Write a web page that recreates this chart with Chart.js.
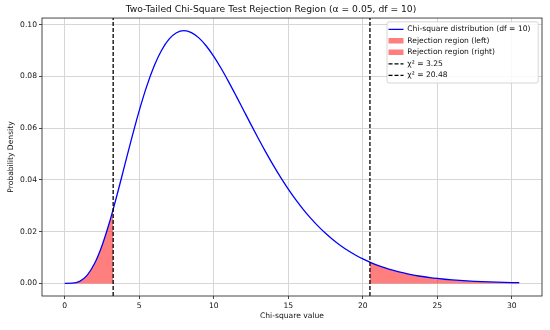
<!DOCTYPE html>
<html>
<head>
<meta charset="utf-8">
<script src="https://cdn.jsdelivr.net/npm/chart.js@4.4.1/dist/chart.umd.min.js"></script>
<style>
  html, body { margin: 0; padding: 0; background: #ffffff; }
  #wrap { width: 550px; height: 330px; }
</style>
</head>
<body>
<div id="wrap"><canvas id="c" width="550" height="330"></canvas></div>
<script>
// ---- text ----
const chartTitle = "Two-Tailed Chi-Square Test Rejection Region (α = 0.05, df = 10)";
const xAxisLabel = "Chi-square value";
const yAxisLabel = "Probability Density";
const seriesLabels = ["Chi-square distribution (df = 10)", "Rejection region (left)", "Rejection region (right)", "χ² = 3.25", "χ² = 20.48"];

// ---- data ----
const chiX = [0, 0.5, 1, 1.5, 2, 2.5, 3, 3.25, 3.5, 4, 4.5, 5, 5.5, 6, 6.5, 7, 7.5, 8, 8.5, 9, 9.5,
  10, 10.5, 11, 11.5, 12, 12.5, 13, 13.5, 14, 14.5, 15, 15.5, 16, 16.5, 17, 17.5, 18, 18.5, 19, 19.5,
  20, 20.48, 20.5, 21, 21.5, 22, 22.5, 23, 23.5, 24, 24.5, 25, 25.5, 26, 26.5, 27, 27.5, 28, 28.5,
  29, 29.5, 30, 30.5];
const chiPdf = [0, 0.0000634, 0.000790, 0.003114, 0.007664, 0.014572, 0.023533, 0.028605, 0.033954,
  0.045112, 0.056276, 0.066800, 0.076169, 0.084016, 0.090122, 0.094406, 0.096889, 0.097683, 0.096952,
  0.094904, 0.091756, 0.087733, 0.083052, 0.077910, 0.072483, 0.066927, 0.061369, 0.055910, 0.050639,
  0.045612, 0.040877, 0.036457, 0.032373, 0.028626, 0.025214, 0.022128, 0.019351, 0.016869, 0.014659,
  0.012702, 0.010975, 0.009458, 0.008181, 0.008131, 0.006973, 0.005967, 0.005094, 0.004341, 0.003691,
  0.003133, 0.002654, 0.002245, 0.001896, 0.001598, 0.001345, 0.001130, 0.000949, 0.000795, 0.000666,
  0.000556, 0.000464, 0.000387, 0.000323, 0.000268];
const criticalValues = [3.25, 20.48];

// ---- axes ----
const xTicks = [0, 5, 10, 15, 20, 25, 30];
const yTicks = [0, 0.02, 0.04, 0.06, 0.08, 0.10];
const xLimits = [-1.525, 32.025];
const yLimits = [-0.00488, 0.10257];

// ---- build datasets from arrays ----
const curvePts = chiX.map((x, i) => ({ x: x, y: chiPdf[i] }));
const leftPts = curvePts.filter(p => p.x <= criticalValues[0]);
const rightPts = curvePts.filter(p => p.x >= criticalValues[1]);
const vline = v => [{ x: v, y: yLimits[0] }, { x: v, y: yLimits[1] }];

const FONT = "'DejaVu Sans', 'Liberation Sans', sans-serif";
const TXT = '#111111';
const fillColor = 'rgba(255, 0, 0, 0.5)';

const datasets = [
  { label: seriesLabels[0], data: curvePts, borderColor: '#0000ff', borderWidth: 1.3, pointRadius: 0,
    fill: false, cubicInterpolationMode: 'monotone', order: 1, legendStyle: 'line' },
  { label: seriesLabels[1], data: leftPts, borderWidth: 0, borderColor: 'rgba(0,0,0,0)', backgroundColor: fillColor,
    pointRadius: 0, fill: 'origin', cubicInterpolationMode: 'monotone', order: 2, legendStyle: 'rect' },
  { label: seriesLabels[2], data: rightPts, borderWidth: 0, borderColor: 'rgba(0,0,0,0)', backgroundColor: fillColor,
    pointRadius: 0, fill: 'origin', cubicInterpolationMode: 'monotone', order: 2, legendStyle: 'rect' },
  { label: seriesLabels[3], data: vline(criticalValues[0]), borderColor: '#000000', borderWidth: 1.3,
    borderDash: [4, 2], pointRadius: 0, fill: false, order: 0, legendStyle: 'line' },
  { label: seriesLabels[4], data: vline(criticalValues[1]), borderColor: '#000000', borderWidth: 1.3,
    borderDash: [4, 2], pointRadius: 0, fill: false, order: 0, legendStyle: 'line' }
];

// legend frame + placement inside the plot (upper right)
function drawLegendFrame(chart) {
  const ctx = chart.ctx, ca = chart.chartArea;
  const l = ca.right - 155, t = ca.top + 3.8, r = ca.right - 3.8, b = ca.top + 65;
  ctx.save();
  ctx.beginPath();
  if (ctx.roundRect) ctx.roundRect(l, t, r - l, b - t, 2); else ctx.rect(l, t, r - l, b - t);
  ctx.fillStyle = 'rgba(255,255,255,0.85)';
  ctx.fill();
  ctx.lineWidth = 0.8;
  ctx.strokeStyle = '#cccccc';
  ctx.stroke();
  ctx.restore();
}
const legendPlacement = {
  id: 'legendPlacement',
  afterLayout(chart) {
    const lg = chart.legend;
    if (!lg) return;
    const pad = lg.options.labels.padding;
    const ca = chart.chartArea;
    lg.left = ca.right - 153.5 - pad;
    lg.top = ca.top + 7.5 - pad;
    lg.right = ca.right;
    lg.bottom = ca.bottom + 50;
    if (!lg._framed) {
      const orig = lg.draw.bind(lg);
      lg.draw = function (area) { drawLegendFrame(chart); orig(area); };
      lg._framed = true;
    }
  }
};
const spines = {
  id: 'spines',
  afterDatasetsDraw(chart) {
    const ctx = chart.ctx, ca = chart.chartArea;
    ctx.save();
    ctx.strokeStyle = '#333333';
    ctx.lineWidth = 0.9;
    ctx.strokeRect(ca.left, ca.top, ca.right - ca.left, ca.bottom - ca.top);
    ctx.restore();
  }
};

new Chart(document.getElementById('c'), {
  type: 'line',
  data: { datasets: datasets },
  plugins: [legendPlacement, spines],
  options: {
    responsive: false,
    animation: false,
    devicePixelRatio: 1,
    layout: { padding: { left: 0, right: 8, top: 0, bottom: 0 } },
    plugins: {
      title: {
        display: true, text: chartTitle, color: TXT,
        font: { family: FONT, size: 9.2, weight: 'normal', lineHeight: 1.2 },
        padding: { top: 4.5, bottom: 2.5 }
      },
      legend: {
        display: true,
        position: 'chartArea',
        align: 'start',
        labels: {
          usePointStyle: true,
          boxWidth: 18,
          pointStyleWidth: 15,
          boxHeight: 5.5,
          padding: 3.9,
          color: TXT,
          font: { family: FONT, size: 7.6, lineHeight: 1.2 },
          sort: (a, b) => a.datasetIndex - b.datasetIndex,
          generateLabels(chart) {
            return chart.data.datasets.map((ds, i) => {
              const isRect = ds.legendStyle === 'rect';
              return {
                text: ds.label,
                datasetIndex: i,
                pointStyle: ds.legendStyle,
                fillStyle: isRect ? ds.backgroundColor : 'rgba(0,0,0,0)',
                strokeStyle: isRect ? 'rgba(0,0,0,0)' : ds.borderColor,
                lineWidth: isRect ? 0 : ds.borderWidth,
                lineDash: ds.borderDash || [],
                hidden: false,
                fontColor: TXT,
                textAlign: 'left'
              };
            });
          }
        }
      },
      tooltip: { enabled: false }
    },
    scales: {
      x: {
        type: 'linear',
        min: xLimits[0], max: xLimits[1],
        afterBuildTicks: s => { s.ticks = xTicks.map(v => ({ value: v })); },
        afterFit: s => { s.height = 34; },
        grid: { color: '#d6d6d6', lineWidth: 1, drawTicks: true, tickLength: 3, tickColor: '#333333', tickWidth: 0.9 },
        border: { display: false },
        ticks: { color: TXT, font: { family: FONT, size: 7.6 }, padding: 2, maxRotation: 0, autoSkip: false,
          callback: v => String(v) },
        title: { display: true, text: xAxisLabel, color: TXT, font: { family: FONT, size: 7.6, lineHeight: 1.2 },
          padding: { top: 0, bottom: 9.4 } }
      },
      y: {
        type: 'linear',
        min: yLimits[0], max: yLimits[1],
        afterBuildTicks: s => { s.ticks = yTicks.map(v => ({ value: v })); },
        afterFit: s => { s.width = 42; },
        grid: { color: '#d6d6d6', lineWidth: 1, drawTicks: true, tickLength: 3, tickColor: '#333333', tickWidth: 0.9 },
        border: { display: false },
        ticks: { color: TXT, font: { family: FONT, size: 7.6 }, padding: 2, autoSkip: false,
          callback: v => Number(v).toFixed(2) },
        title: { display: true, text: yAxisLabel, color: TXT, font: { family: FONT, size: 7.6, lineHeight: 1.2 },
          padding: { top: 6.5, bottom: 0 } }
      }
    }
  }
});
</script>
</body>
</html>
